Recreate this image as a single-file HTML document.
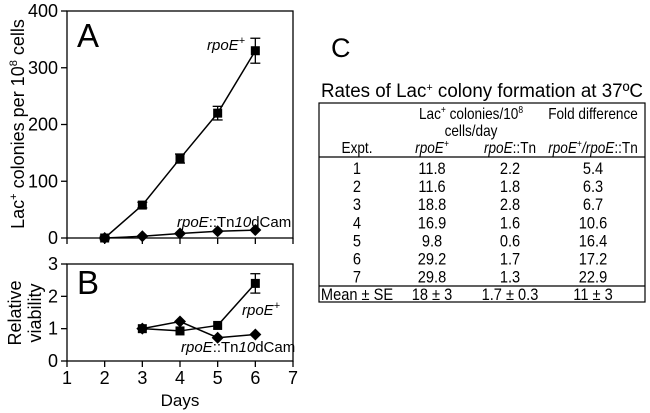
<!DOCTYPE html>
<html><head><meta charset="utf-8"><style>
body{margin:0;background:#fff;width:650px;height:413px;overflow:hidden;font-family:"Liberation Sans",Arial,sans-serif}
svg{position:absolute;left:0;top:0}
</style></head><body>
<svg width="650" height="413" font-family="Liberation Sans, Arial, sans-serif">
<g id="chart"></g>
</svg>
<script>
const days=[1,2,3,4,5,6,7];
const aDays=[2,3,4,5,6];
const aPlus=[0,58,140,220,330];
const aPlusErr=[3,5,8,12,22];
const aTn=[0,3,8,12,14];
const aTicks=[0,100,200,300,400];
const bDays=[3,4,5,6];
const bPlus=[1.0,0.93,1.1,2.4];
const bPlusErr=[0,0,0,0.3];
const bTn=[1.0,1.22,0.72,0.82];
const bTicks=[0,1,2,3];
const tblRows=[["1","11.8","2.2","5.4"],["2","11.6","1.8","6.3"],["3","18.8","2.8","6.7"],["4","16.9","1.6","10.6"],["5","9.8","0.6","16.4"],["6","29.2","1.7","17.2"],["7","29.8","1.3","22.9"]];
const tblMean=["Mean ± SE","18 ±  3","1.7 ± 0.3","11 ±  3"];

const NS="http://www.w3.org/2000/svg";
const g=document.getElementById('chart');
function mk(tag,attrs,parent,text){const e=document.createElementNS(NS,tag);for(const k in attrs)e.setAttribute(k,attrs[k]);if(text!==undefined)e.textContent=text;(parent||g).appendChild(e);return e;}
const X=d=>67+(d-1)*(293-67)/6;
const YA=v=>238-v*(238-11)/400;
const YB=v=>361-v*(361-264)/3;

function panel(Y,ticks,top,bot,name){
  const fr=mk('rect',{x:67,y:top,width:226,height:bot-top,fill:'none',stroke:'#000','stroke-width':1.3});
  
  ticks.forEach(t=>{mk('line',{x1:61,x2:67,y1:Y(t),y2:Y(t),stroke:'#000','stroke-width':1.3});
    const tx=mk('text',{x:58,y:Y(t)+6,'text-anchor':'end','font-size':18},g,t);
    });
  days.forEach(d=>mk('line',{x1:X(d),x2:X(d),y1:bot,y2:bot+6,stroke:'#000','stroke-width':1.3}));
}
function series(xs,ys,errs,Y,shape,name){
  const pts=xs.map((d,i)=>X(d)+','+Y(ys[i])).join(' ');
  const l=mk('polyline',{points:pts,fill:'none',stroke:'#000','stroke-width':1.5});
  
  xs.forEach((d,i)=>{const cx=X(d),cy=Y(ys[i]);
    if(errs&&errs[i]){const e=errs[i];
      mk('line',{x1:cx,x2:cx,y1:Y(ys[i]+e),y2:Y(ys[i]-e),stroke:'#000','stroke-width':1.3});
      mk('line',{x1:cx-5,x2:cx+5,y1:Y(ys[i]+e),y2:Y(ys[i]+e),stroke:'#000','stroke-width':1.3});
      mk('line',{x1:cx-5,x2:cx+5,y1:Y(ys[i]-e),y2:Y(ys[i]-e),stroke:'#000','stroke-width':1.3});}
    let m;
    if(shape==='sq')m=mk('rect',{x:cx-4.5,y:cy-4.5,width:9,height:9,fill:'#000'});
    else m=mk('polygon',{points:`${cx},${cy-6} ${cx+6},${cy} ${cx},${cy+6} ${cx-6},${cy}`,fill:'#000'});
    });
}
panel(YA,aTicks,11,238,'panel-a');
panel(YB,bTicks,264,361,'panel-b');
series(aDays,aTn,null,YA,'dia','a-rpoe-tn');
series(aDays,aPlus,aPlusErr,YA,'sq','a-rpoe-plus');
series(bDays,bPlus,bPlusErr,YB,'sq','b-rpoe-plus');
series(bDays,bTn,null,YB,'dia','b-rpoe-tn');
days.forEach(d=>{const t=mk('text',{x:X(d),y:384,'text-anchor':'middle','font-size':18},g,d);
  });
</script>
<svg width="650" height="413" font-family="Liberation Sans, Arial, sans-serif" style="pointer-events:none">
<text x="77" y="47" font-size="33">A</text>
<text x="77" y="294" font-size="33">B</text>
<text x="331" y="57" font-size="27">C</text>
<text x="207" y="50" font-size="15" font-style="italic">rpoE<tspan dy="-6" font-size="11" font-style="normal">+</tspan></text>
<text x="177" y="227" font-size="15"><tspan font-style="italic">rpoE</tspan>::Tn<tspan font-style="italic">10</tspan>dCam</text>
<text x="242" y="315" font-size="15" font-style="italic">rpoE<tspan dy="-6" font-size="11" font-style="normal">+</tspan></text>
<text x="181" y="352" font-size="15"><tspan font-style="italic">rpoE</tspan>::Tn<tspan font-style="italic">10</tspan>dCam</text>
<text transform="translate(24,124) rotate(-90)" text-anchor="middle" font-size="18">Lac<tspan dy="-7" font-size="11">+</tspan><tspan dy="7"> colonies per 10</tspan><tspan dy="-7" font-size="11">8</tspan><tspan dy="7"> cells</tspan></text>
<text transform="translate(21,313) rotate(-90)" text-anchor="middle" font-size="18">Relative</text>
<text transform="translate(41,313) rotate(-90)" text-anchor="middle" font-size="18">viability</text>
<text x="180" y="406" text-anchor="middle" font-size="17">Days</text>
<text x="482" y="97" text-anchor="middle" font-size="19" textLength="322" lengthAdjust="spacingAndGlyphs">Rates of Lac<tspan dy="-6" font-size="11">+</tspan><tspan dy="6"> colony formation at 37ºC</tspan></text>
<rect x="319" y="103" width="326" height="199" fill="none" stroke="#000" stroke-width="1.2"/>
<line x1="319" x2="645" y1="157" y2="157" stroke="#000" stroke-width="1.2"/>
<line x1="319" x2="645" y1="286" y2="286" stroke="#000" stroke-width="1.2"/>
<g font-size="16" text-anchor="middle">
<text transform="translate(471,119) scale(0.85,1)">Lac<tspan dy="-6" font-size="10">+</tspan><tspan dy="6"> colonies/10</tspan><tspan dy="-6" font-size="10">8</tspan></text>
<text transform="translate(471,136) scale(0.85,1)">cells/day</text>
<text transform="translate(593,119) scale(0.85,1)">Fold difference</text>
<text transform="translate(357,153) scale(0.85,1)">Expt.</text>
<text transform="translate(432,153) scale(0.85,1)" font-style="italic">rpoE<tspan dy="-6" font-size="10">+</tspan></text>
<text transform="translate(510,153) scale(0.85,1)"><tspan font-style="italic">rpoE</tspan>::Tn</text>
<text transform="translate(593,153) scale(0.85,1)"><tspan font-style="italic">rpoE</tspan><tspan dy="-6" font-size="10">+</tspan><tspan dy="6" font-style="italic">/rpoE</tspan>::Tn</text>
</g>
<g id="tbody" font-size="17" text-anchor="middle"></g>
</svg>
<script>
(function(){
const tb=document.getElementById('tbody');
const cx=[357,432,510,593];
tblRows.forEach((r,i)=>{r.forEach((v,j)=>{const t=document.createElementNS("http://www.w3.org/2000/svg",'text');
t.setAttribute('transform','translate('+cx[j]+','+(174+i*18.1)+') scale(0.86,1)');t.textContent=v;


tb.appendChild(t);});});
tblMean.forEach((v,j)=>{const t=document.createElementNS("http://www.w3.org/2000/svg",'text');
t.setAttribute('transform','translate('+cx[j]+',300) scale(0.86,1)');t.textContent=v;


tb.appendChild(t);});
})();
</script>
</body></html>
